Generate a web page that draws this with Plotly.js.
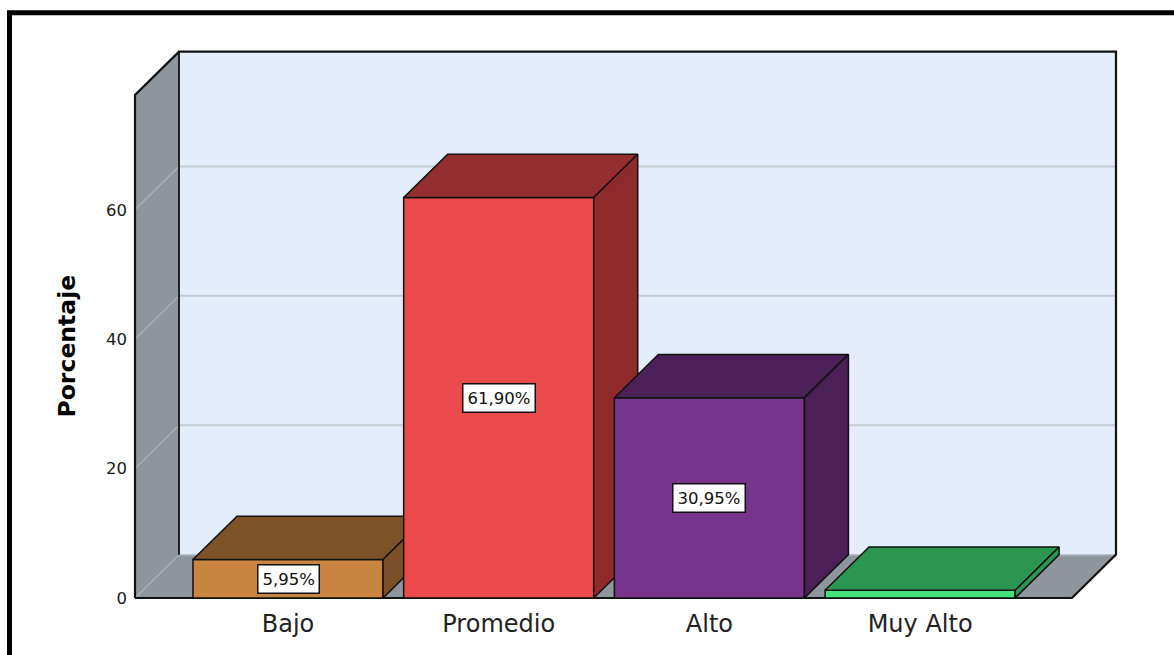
<!DOCTYPE html>
<html>
<head>
<meta charset="utf-8">
<script src="https://cdn.plot.ly/plotly-3.0.1.min.js"></script>
<style>
  html, body { margin: 0; padding: 0; background: #ffffff; }
  #chart { width: 1174px; height: 655px; }
</style>
</head>
<body>
<div id="chart"></div>
<script>
// ---------- data ----------
const categories = ['Bajo', 'Promedio', 'Alto', 'Muy Alto'];
const percentages = [5.95, 61.90, 30.95, 1.19];
const yTickValues = [0, 20, 40, 60];
const yAxisTitle = 'Porcentaje';

// ---------- styles ----------
const frontColors = ['#C9843F', '#EB4A4C', '#77348C', '#41E37B'];
const topColors   = ['#7E5229', '#952E30', '#4B2058', '#2A9650'];
const sideColors  = ['#7A4F27', '#8E2A2C', '#4A2057', '#2A9650'];
const FONT = 'DejaVu Sans, Verdana, sans-serif';

// ---------- geometry (oblique projection, in data units) ----------
const PXX = 210.7;           // px per category unit
const PXY = 6.47;            // px per percent
const xMin = -0.7594, xMax = xMin + 1012 / PXX;
const yMin = -4 / PXY, yMax = 562 / PXY;
const xL = -0.7262;          // front-left edge of the floor
const xR = 3.7209;           // front-right edge of the floor
const DX = 44 / PXX;         // depth offset along x
const DY = 6.7;              // depth offset along y
const wallTop = 77.74;       // top of the front-left wall edge
const halfW = 0.451;         // half bar width

const traces = [];
function poly(xs, ys, fill, lc, lw) {
  traces.push({
    type: 'scatter', mode: 'lines',
    x: xs.concat([xs[0]]), y: ys.concat([ys[0]]),
    fill: 'toself', fillcolor: fill,
    line: { color: lc, width: lw },
    hoverinfo: 'skip', showlegend: false
  });
}
function seg(xs, ys, lc, lw) {
  traces.push({
    type: 'scatter', mode: 'lines', x: xs, y: ys,
    line: { color: lc, width: lw },
    hoverinfo: 'skip', showlegend: false
  });
}

// walls
poly([xL, xL, xL + DX, xL + DX], [0, wallTop, wallTop + DY, DY], '#8F959C', 'rgba(0,0,0,0)', 0);
poly([xL, xR, xR + DX, xL + DX], [0, 0, DY, DY], '#8F959C', 'rgba(0,0,0,0)', 0);
poly([xL + DX, xR + DX, xR + DX, xL + DX], [DY, DY, wallTop + DY, wallTop + DY], '#E3EEFA', 'rgba(0,0,0,0)', 0);

// gridlines
yTickValues.forEach(v => {
  seg([xL, xL + DX], [v, v + DY], '#AEB3B9', 1.2);
  if (v > 0) seg([xL + DX, xR + DX], [v + DY, v + DY], '#C6CBD1', 2);
});
// back floor edge (light) and inner back-left edge (dark)
seg([xL + DX, xR + DX], [DY, DY], '#B9C1CA', 1.5);
seg([xL + DX, xL + DX], [DY, wallTop + DY], '#111111', 1.8);
// outer outline
seg([xL, xL, xL + DX, xR + DX, xR + DX, xR, xL],
    [0, wallTop, wallTop + DY, wallTop + DY, DY, 0, 0], '#111111', 2.2);

// bars
percentages.forEach((v, i) => {
  const a = i - halfW, b = i + halfW;
  poly([a, b, b, a], [0, 0, v, v], frontColors[i], '#111111', 1.5);
  poly([a, b, b + DX, a + DX], [v, v, v + DY, v + DY], topColors[i], '#111111', 1.5);
  poly([b, b + DX, b + DX, b], [0, DY, v + DY, v], sideColors[i], '#111111', 1.5);
});

// value labels
const annotations = [];
percentages.forEach((v, i) => {
  if (v < 3) return;
  annotations.push({
    x: i, y: v / 2, xref: 'x', yref: 'y',
    text: v.toFixed(2).replace('.', ',') + '%',
    showarrow: false, bgcolor: '#ffffff',
    bordercolor: '#111111', borderwidth: 1.5, borderpad: 4,
    font: { family: FONT, size: 16.5, color: '#111111' },
    xanchor: 'center', yanchor: 'middle'
  });
});
// y axis title
annotations.push({
  x: (67 - 128) / 1012, xref: 'paper', y: wallTop / 2, yref: 'y',
  text: '<b>' + yAxisTitle + '</b>', textangle: -90, showarrow: false,
  font: { family: FONT, size: 23.5, color: '#000000' },
  xanchor: 'center', yanchor: 'middle'
});

const layout = {
  width: 1174, height: 655,
  margin: { l: 128, r: 34, t: 36, b: 53 },
  paper_bgcolor: '#ffffff', plot_bgcolor: 'rgba(0,0,0,0)',
  showlegend: false,
  xaxis: {
    range: [xMin, xMax], tickvals: categories.map((c, i) => i), ticktext: categories,
    showgrid: false, zeroline: false, showline: false, ticks: '',
    tickfont: { family: FONT, size: 24, color: '#222222' },
    ticklabelstandoff: 5, fixedrange: true
  },
  yaxis: {
    range: [yMin, yMax], tickvals: yTickValues,
    showgrid: false, zeroline: false, showline: false, ticks: '',
    tickfont: { family: FONT, size: 16.5, color: '#1a1a1a' },
    ticklabelstandoff: 0, fixedrange: true
  },
  annotations: annotations,
  shapes: [{
    type: 'rect', xref: 'paper', yref: 'paper',
    x0: (9.5 - 128) / 1012, x1: 1.3,
    y0: -0.3, y1: (602 - 12.8) / 566,
    line: { color: '#000000', width: 5 }, fillcolor: 'rgba(0,0,0,0)'
  }]
};

Plotly.newPlot('chart', traces, layout, { displayModeBar: false, staticPlot: true });
</script>
</body>
</html>
